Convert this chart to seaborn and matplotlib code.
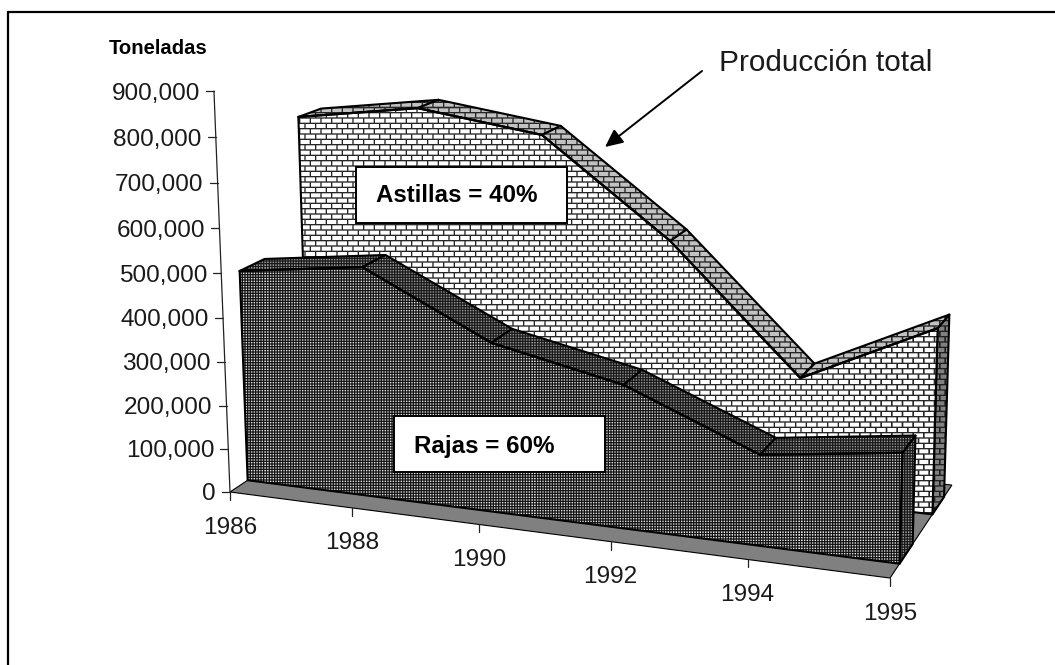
import numpy as np
import matplotlib
matplotlib.use("Agg")
import matplotlib.pyplot as plt
from matplotlib.patches import Polygon, Rectangle
import seaborn as sns

# datos
anios = ["1986", "1988", "1990", "1992", "1994", "1995"]
rajas = [485000, 520000, 380000, 318000, 199000, 238000]
total = [778000, 818000, 777000, 560000, 277000, 419000]
ticks_valor = [0, 100000, 200000, 300000, 400000, 500000, 600000, 700000, 800000, 900000]

W, H = 1055, 665

sns.set_theme(style="white")
plt.rcParams["font.family"] = ["Liberation Sans", "DejaVu Sans"]

fig = plt.figure(figsize=(W / 100, H / 100), dpi=100)
ax = fig.add_axes([0, 0, 1, 1])


# proyeccion en perspectiva: categoria, valor (en 100 mil) y profundidad (0 a 1)
def proy(i, valor, d):
    v = valor / 100000
    w = 1 - 0.01825 * i - 0.00415 * v + 0.109 * d
    x = (230 + 115.76 * i - 2.67 * v + (153 + 1.4 * i) * d) / w
    y = (492 + 6.66 * i - 44.93 * v - 31.6 * d) / w
    return x, y


# texturas de relleno, calculadas con sobremuestreo
ss = 3
yy, xx = np.mgrid[0:H * ss, 0:W * ss] / ss


def cobertura(m):
    return m.reshape(H, ss, W, ss).mean(axis=(1, 3))


fila = np.floor(yy / 5.33)
m_ladrillo = cobertura(((yy % 5.33) < 1.4) | (((xx + (fila % 2) * 5.33) % 10.67) < 1.4))
m_puntos = cobertura(((xx % 2.67) < 1.34) & ((yy % 2.67) < 1.34))


def textura(m, base, marca):
    return base * (1 - m) + marca * m


tex_ladrillo = textura(m_ladrillo, 1.0, 0.15)
tex_ladrillo_top = textura(m_ladrillo, 0.76, 0.15)
tex_ladrillo_lado = textura(m_ladrillo, 0.5, 0.12)
tex_puntos = textura(m_puntos, 0.08, 0.9)
tex_puntos_banda = textura(m_puntos, 0.1, 0.62)


def cara(pts, tex, z):
    im = ax.imshow(tex, extent=(0, W, H, 0), cmap="gray", vmin=0, vmax=1,
                   interpolation="nearest", aspect="auto", zorder=z)
    im.set_clip_path(Polygon(pts, transform=ax.transData))
    ax.add_patch(Polygon(pts, closed=True, fill=False, edgecolor="black", lw=1.5,
                         joinstyle="round", zorder=z + 0.1))


def area(valores, d0, d1, tex_frente, tex_top, tex_lado, z):
    n = len(valores)
    frente = [proy(i, valores[i], d0) for i in range(n)]
    atras = [proy(i, valores[i], d1) for i in range(n)]
    base0 = [proy(i, 0, d0) for i in range(n)]
    base1 = [proy(i, 0, d1) for i in range(n)]

    cara([frente[-1], atras[-1], base1[-1], base0[-1]], tex_lado, z)
    for k in range(n - 1):
        cara([frente[k], frente[k + 1], atras[k + 1], atras[k]], tex_top, z + 1 + k * 0.2)
    cara(frente + base0[::-1], tex_frente, z + 3)

    # linea superior de la cara frontal
    fx, fy = zip(*frente)
    sns.lineplot(x=list(fx), y=list(fy), sort=False, estimator=None, color="black",
                 linewidth=1.6, ax=ax, zorder=z + 3.5, legend=False)


# piso
piso = [proy(0, 0, 0), proy(5, 0, 0), proy(5, 0, 1), proy(0, 0, 1)]
ax.add_patch(Polygon(piso, closed=True, facecolor="#808080", edgecolor="black", lw=0.8, zorder=1))

area(total, 0.66, 0.86, tex_ladrillo, tex_ladrillo_top, tex_ladrillo_lado, 2)
area(rajas, 0.14, 0.34, tex_puntos, tex_puntos_banda, tex_puntos_banda, 7)

# eje de valores
ejex, ejey = zip(proy(0, 0, 0), proy(0, ticks_valor[-1], 0))
ax.plot(ejex, ejey, color="#222222", lw=0.9, zorder=12)
for t in ticks_valor:
    x, y = proy(0, t, 0)
    ax.plot([x - 8, x], [y, y], color="#222222", lw=0.9, zorder=12)
    ax.text(x - 14, y, f"{t:,}", ha="right", va="center_baseline", fontsize=17.6, color="#1a1a1a")

# eje de categorias
for i, a in enumerate(anios):
    x, y = proy(i, 0, 0)
    ax.plot([x, x], [y, y + 8], color="#222222", lw=0.9, zorder=12)
    ax.text(x, y + 33, a, ha="center", va="center_baseline", fontsize=17.6, color="#1a1a1a")

# cuadros de texto
ax.add_patch(Rectangle((356, 167), 211, 56, facecolor="white", edgecolor="black", lw=1.4, zorder=15))
ax.text(457, 193, "Astillas = 40%", ha="center", va="center_baseline", fontsize=17.4,
        fontweight="bold", color="black", zorder=16)
ax.add_patch(Rectangle((394, 416), 211, 56, facecolor="white", edgecolor="black", lw=1.4, zorder=15))
ax.text(484, 444, "Rajas = 60%", ha="center", va="center_baseline", fontsize=17.4,
        fontweight="bold", color="black", zorder=16)

ax.text(158, 47, "Toneladas", ha="center", va="center_baseline", fontsize=14.6,
        fontweight="bold", color="black")
ax.text(826, 60, "Producción total", ha="center", va="center_baseline", fontsize=21.4, color="#1a1a1a")
ax.annotate("", xy=(605, 147), xytext=(702, 71), zorder=17,
            arrowprops=dict(arrowstyle="-|>,head_length=0.9,head_width=0.42", color="black",
                            lw=1.4, shrinkA=0, shrinkB=0))

# marco: solo arriba y a la izquierda
ax.plot([8, W], [12, 12], color="black", lw=1.6, zorder=20)
ax.plot([8, 8], [12, H], color="black", lw=1.6, zorder=20)

ax.set_xlim(0, W)
ax.set_ylim(H, 0)
ax.axis("off")

fig.savefig("out.png", dpi=100)
